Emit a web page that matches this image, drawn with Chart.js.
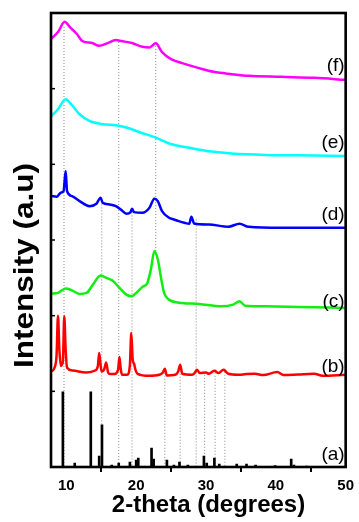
<!DOCTYPE html>
<html><head><meta charset="utf-8">
<script src="https://cdn.jsdelivr.net/npm/chart.js@4.4.1/dist/chart.umd.min.js"></script>
<style>html,body{margin:0;padding:0;background:#fff;overflow:hidden}#wrap{width:359px;height:522px}</style>
</head><body><div id="wrap"><canvas id="c" width="359" height="522"></canvas></div>
<script>
// x-axis ticks
const xTicks = [10, 20, 30, 40, 50];
// (a) reference sticks
const aX = [9.5, 11.2, 13.5, 14.7, 15.1, 16.5, 17.5, 19.1, 20.0, 20.3, 22.2, 22.5, 24.4, 25.4, 26.2, 27.4, 29.7, 30.1, 31.2, 31.9, 34.4, 35.8, 37.1, 39.9, 42.2, 42.6, 44.4];
const aY = [75, 4, 75, 11, 42, 2, 4, 5, 7, 9, 19, 8, 7, 2, 5, 2, 11, 4, 9, 3, 3, 3, 2, 1.5, 8, 2, 1];
// (b) red
const bX = [7.9, 8.3, 8.6, 8.8, 9.0, 9.2, 9.5, 9.7, 9.9, 10.1, 10.9, 12.8, 14.0, 14.5, 14.7, 14.9, 15.05, 15.4, 15.7, 15.95, 16.1, 16.9, 17.4, 17.6, 17.8, 18.0, 18.7, 19.1, 19.3, 19.5, 19.7, 19.9, 20.2, 21.9, 23.3, 23.8, 24.1, 24.4, 25.6, 26.0, 26.3, 26.6, 28.0, 28.4, 28.7, 29.1, 30.0, 30.4, 31.2, 31.8, 32.5, 33.2, 34.6, 35.8, 37.0, 38.2, 40.2, 41.1, 43.2, 45.5, 46.7, 49.9];
const bY = [95.3, 99, 112, 151, 117, 101, 105, 150.3, 117, 99, 96.3, 94.3, 96, 100.3, 113.7, 102, 95.3, 97, 104.3, 95, 93, 92.7, 97, 109.7, 97, 92, 92, 102, 133.7, 107, 103, 97, 93, 91, 92, 94, 98, 91.3, 92, 95, 102, 93, 92, 94, 97, 93.7, 94.3, 93, 96, 93.7, 97, 93, 92, 92.7, 93, 91.7, 94.7, 91.7, 92.3, 93, 91, 92];
// (c) green
const cX = [7.9, 8.8, 9.9, 10.8, 11.9, 12.9, 13.8, 14.9, 15.7, 16.6, 17.6, 18.6, 19.3, 20.0, 20.9, 21.6, 22.1, 22.6, 23.1, 23.6, 24.0, 24.7, 26.6, 29.0, 32.2, 33.9, 34.8, 35.6, 38.5, 43.2, 49.9];
const cY = [173, 173.7, 178, 176.3, 172.7, 173.7, 182, 191, 188.7, 186, 178.7, 172, 170.3, 173.7, 179.7, 183.7, 197, 215.3, 207, 187, 173.7, 167, 163.7, 162.7, 160.3, 162, 165.3, 161, 160.3, 159.7, 158.7];
// (d) blue
const dX = [7.9, 8.6, 9.2, 9.6, 9.9, 10.1, 10.8, 11.9, 13.3, 14.3, 14.9, 15.2, 16.2, 17.1, 17.9, 18.6, 19.2, 19.4, 19.7, 20.9, 21.9, 22.6, 23.1, 23.7, 24.7, 25.4, 26.1, 26.9, 27.6, 27.9, 28.3, 30.4, 33.2, 34.8, 36.1, 40.8, 49.9];
const dY = [270.3, 269.7, 273.7, 275.3, 295.3, 275.3, 270.3, 265.3, 260.3, 262.7, 268.7, 263.7, 262, 260.3, 256.3, 252.7, 254.3, 257.7, 254.3, 253.7, 258.7, 267.7, 265.3, 255.3, 248.7, 247, 245.3, 243.7, 242.7, 249.7, 243, 242, 239.7, 242.7, 239.7, 238.7, 238.7];
// (e) cyan
const eX = [7.9, 8.8, 9.9, 10.8, 11.9, 13.3, 15.2, 17.1, 18.6, 20.4, 22.8, 25.1, 28.0, 30.8, 33.7, 38.5, 43.2, 49.9];
const eY = [350.3, 357, 367, 361, 352, 345.3, 342, 341, 338.7, 334.3, 328.7, 322, 318, 314.7, 312.7, 311.3, 311, 310.3];
// (f) magenta
const fX = [7.8, 8.8, 9.76, 10.5, 11.5, 12.3, 13.7, 14.7, 15.9, 17.1, 17.9, 19.4, 20.9, 21.9, 22.8, 23.7, 25.0, 26.6, 29.0, 31.1, 33.7, 36.1, 40.8, 45.6, 49.9];
const fY = [427, 434, 444.3, 439, 432, 425, 423, 420.3, 423, 426, 425, 423, 419.3, 418.7, 422.7, 414, 407, 403, 398, 394.3, 392, 390.3, 389.3, 388.3, 386.3];
// dotted guide lines
const guideX = [9.66, 15.07, 17.5, 19.4, 22.8, 24.1, 26.3, 28.6, 29.8, 31.3, 32.7];
const guideTop = [439, 265, 424, 257, 420, 97, 102, 247, 95, 97, 98];
const guideBottom = [0, 0, 0, 0, 215, 0, 0, 0, 0, 0, 0];
// curve labels
const labelText = ['(a)', '(b)', '(c)', '(d)', '(e)', '(f)'];
const labelY = [12, 100, 165, 252, 324, 400];

const pts = (xs, ys) => xs.map((x, i) => ({x: x, y: ys[i]}));
const curve = (xs, ys, color) => ({type: 'line', data: pts(xs, ys), borderColor: color, borderWidth: 2.5, pointRadius: 0, fill: false, cubicInterpolationMode: 'monotone', order: 0});

const datasets = [
  curve(fX, fY, '#ff00ff'),
  curve(eX, eY, '#00ffff'),
  curve(dX, dY, '#0000ff'),
  curve(cX, cY, '#11ee11'),
  curve(bX, bY, '#ff0000'),
  {type: 'bar', data: pts(aX, aY), backgroundColor: '#000', barThickness: 2, grouped: false, order: 0}
];
guideX.forEach((x, i) => {
  datasets.push({type: 'line', data: [{x: x, y: guideTop[i]}, {x: x, y: guideBottom[i]}], borderColor: '#888', borderWidth: 1, borderDash: [1, 2], pointRadius: 0, fill: false, order: 5});
});

const deco = {
  id: 'deco',
  afterDraw(chart) {
    const ctx = chart.ctx, a = chart.chartArea, ys = chart.scales.y;
    ctx.save();
    // inward ticks on left axis
    ctx.strokeStyle = '#000'; ctx.lineWidth = 1.5;
    for (let v = 75.5; v < 453; v += 75.5) {
      const py = ys.getPixelForValue(v);
      ctx.beginPath(); ctx.moveTo(a.left, py); ctx.lineTo(a.left + 4, py); ctx.stroke();
    }
    // frame
    ctx.lineWidth = 2.6;
    ctx.strokeRect(a.left, a.top, a.right - a.left, a.bottom - a.top);
    // curve labels
    ctx.fillStyle = '#000';
    ctx.font = '19px "Liberation Sans", Arial, sans-serif';
    ctx.textAlign = 'right'; ctx.textBaseline = 'middle';
    labelText.forEach((t, i) => ctx.fillText(t, a.right - 1, ys.getPixelForValue(labelY[i])));
    // x title
    ctx.font = 'bold 24px "Liberation Sans", Arial, sans-serif';
    ctx.textAlign = 'center'; ctx.textBaseline = 'alphabetic';
    ctx.fillText('2-theta (degrees)', 208.5, 512);
    // y title
    ctx.translate(33, 265.5); ctx.rotate(-Math.PI / 2);
    ctx.font = 'bold 28px "Liberation Sans", Arial, sans-serif';
    const w = ctx.measureText('Intensity (a.u)').width;
    ctx.scale(205 / w, 1);
    ctx.fillText('Intensity (a.u)', 0, 0);
    ctx.restore();
  }
};

new Chart(document.getElementById('c'), {
  type: 'line',
  data: {datasets: datasets},
  options: {
    responsive: false, animation: false, devicePixelRatio: 1,
    layout: {padding: {top: 13, right: 11, left: 0, bottom: 0}},
    plugins: {legend: {display: false}, tooltip: {enabled: false}},
    scales: {
      x: {
        type: 'linear', min: 7.8, max: 50, offset: false,
        afterBuildTicks: s => { s.ticks = xTicks.map(v => ({value: v})); },
        afterFit: s => { s.height = 55; },
        grid: {display: true, drawOnChartArea: false, drawTicks: true, tickLength: 5, color: '#000', lineWidth: 2},
        border: {display: false},
        ticks: {color: '#000', padding: 5, maxRotation: 0, font: {family: '"Liberation Sans", Arial, sans-serif', weight: 'bold', size: 15}}
      },
      y: {
        type: 'linear', min: 0, max: 453,
        afterFit: s => { s.width = 51; },
        grid: {display: false}, border: {display: false},
        ticks: {display: false}
      }
    }
  },
  plugins: [deco]
});
</script>
</body></html>
